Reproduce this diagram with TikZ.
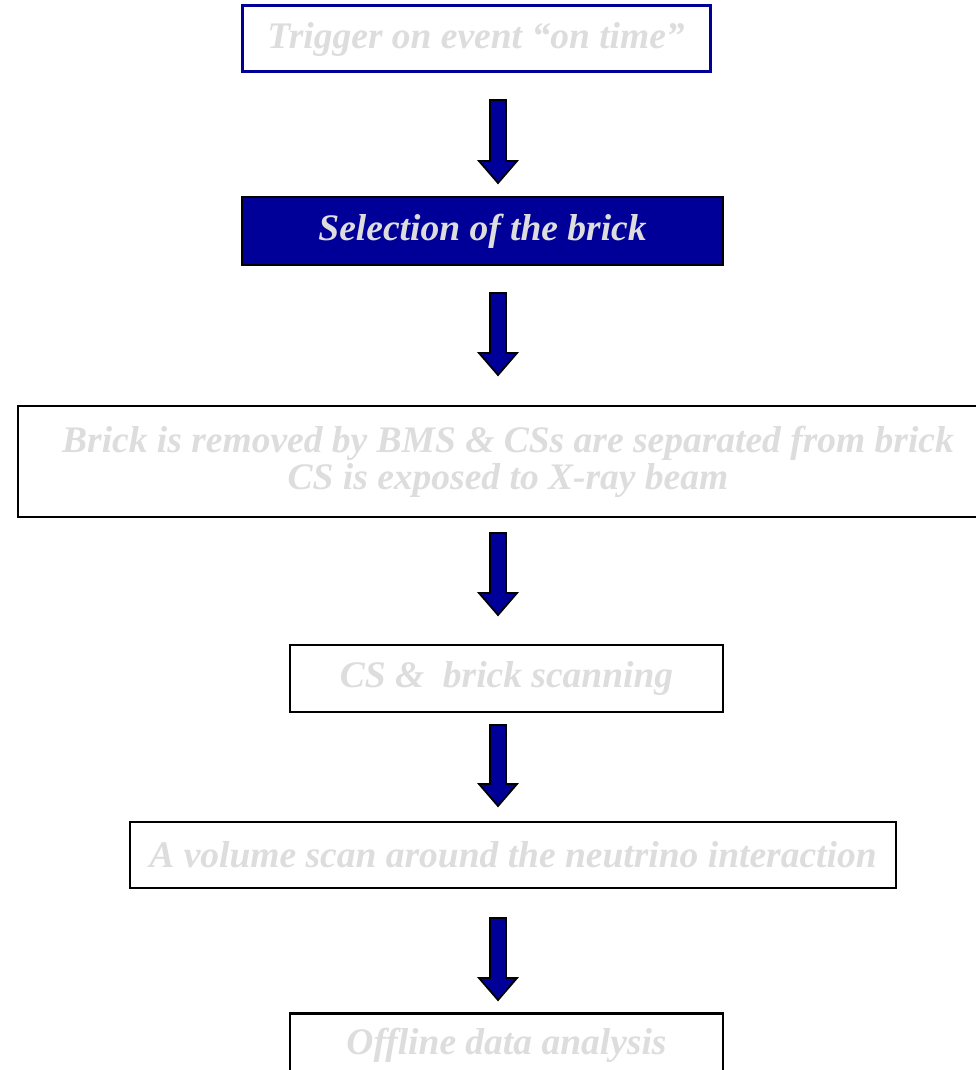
\documentclass[tikz,border=0pt]{standalone}
\usepackage{fontspec}
\setmainfont{Liberation Serif}
\usetikzlibrary{calc}
\definecolor{navy}{RGB}{0,0,153}
\definecolor{edgeblue}{RGB}{0,0,150}
\definecolor{pale}{RGB}{221,221,221}
\tikzset{
  box/.style={draw=black, line width=2.8pt, fill=white, rectangle, inner sep=0pt,
    font=\fontsize{37.5}{37}\selectfont\bfseries\itshape, text=pale, align=center},
  label/.style={inner sep=0pt, font=\fontsize{37.5}{37}\selectfont\bfseries\itshape, text=pale},
  barrow/.style={draw=black, line width=1.8pt, fill=navy, line join=miter},
}
\newcommand\blockarrow[2]{%
  \draw[barrow] let \p1=(#1), \p2=(#2) in
    (\x1-8pt,\y1) -- (\x1+8pt,\y1) -- (\x1+8pt,\y2+22pt) -- (\x1+19pt,\y2+22pt)
    -- (\x1,\y2) -- (\x1-19pt,\y2+22pt) -- (\x1-8pt,\y2+22pt) -- cycle;}
\begin{document}
\begin{tikzpicture}[x=1pt,y=-1pt]
\useasboundingbox (0,0) rectangle (976,1070);
\begin{scope}
\clip (0,0) rectangle (976,1070);
\node[box, draw=edgeblue, line width=3pt, minimum width=468pt, minimum height=66pt] (b1) at (476,39) {Trigger on event \textquotedblleft on time\textquotedblright};
\node[box, fill=navy, minimum width=481pt, minimum height=68pt] (b2) at (482.5,231) {Selection of the brick};
\node[box, minimum width=980pt, minimum height=111pt] (b3) at (508,461.5) {Brick is removed by BMS \& CSs are separated from brick\\CS is exposed to X-ray beam};
\node[box, minimum width=433pt, minimum height=67pt] (b4) at (506.5,678.5) {CS \&\ \ brick scanning};
\node[box, minimum width=766pt, minimum height=66pt] (b5) at (513,855) {A volume scan around the neutrino interaction};
\node[box, minimum width=433pt, minimum height=80pt, anchor=north] (b6) at (506.5,1012) {};
\node[label] (t6) at (506.5,1045) {Offline data analysis};
\end{scope}
\coordinate (a1s) at (498,100); \coordinate (a1e) at (498,183);
\coordinate (a2s) at (498,293); \coordinate (a2e) at (498,375);
\coordinate (a3s) at (498,533); \coordinate (a3e) at (498,615);
\coordinate (a4s) at (498,725); \coordinate (a4e) at (498,806);
\coordinate (a5s) at (498,918); \coordinate (a5e) at (498,1000);
\blockarrow{a1s}{a1e}
\blockarrow{a2s}{a2e}
\blockarrow{a3s}{a3e}
\blockarrow{a4s}{a4e}
\blockarrow{a5s}{a5e}
\end{tikzpicture}
\end{document}
